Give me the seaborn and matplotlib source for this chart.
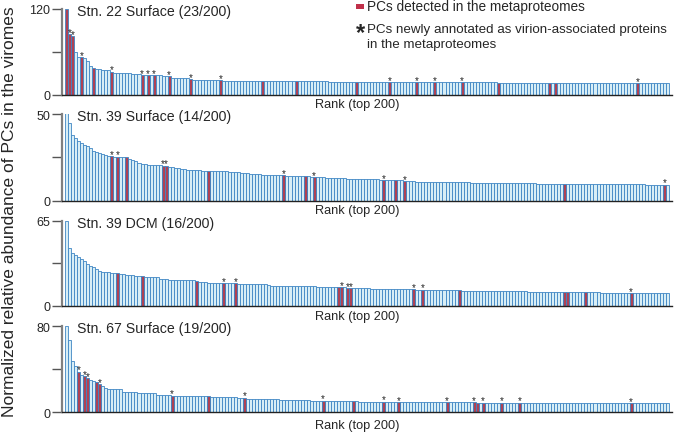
import pandas as pd
import seaborn as sns
import matplotlib.pyplot as plt
from matplotlib.colors import to_rgba
from matplotlib.patches import Rectangle

# Estimated abundance of the top 200 PCs in each virome
stn22_surface = [
    120, 85, 82, 59.5, 53, 52.6, 51, 48, 40, 37,
    36.3, 36, 35.5, 35, 34.5, 32.5, 31, 30.5, 30.3, 30.2,
    30.2, 30.1, 30.0, 29.8, 29.5, 28.0, 27.9, 27.9, 27.8, 27.8,
    27.6, 27.4, 27.2, 27.0, 26.0, 23.8, 23.7, 23.6, 23.5, 23.4,
    23.2, 22.3, 21.2, 21.1, 21.0, 21.0, 21.0, 20.9, 20.9, 20.8,
    20.8, 20.8, 20.2, 20.1, 20.1, 20.0, 20.0, 20.0, 20.0, 19.9,
    19.9, 19.9, 19.8, 19.8, 19.8, 19.7, 19.7, 19.7, 19.6, 19.6,
    19.6, 19.5, 19.5, 19.4, 19.4, 19.3, 19.3, 19.3, 19.2, 19.2,
    19.1, 19.1, 19.0, 19.0, 19.0, 18.9, 18.9, 18.8, 18.8, 18.8,
    18.7, 18.7, 18.7, 18.6, 18.6, 18.6, 18.5, 18.5, 18.5, 18.4,
    18.4, 18.4, 18.3, 18.3, 18.3, 18.2, 18.2, 18.2, 18.2, 18.1,
    18.1, 18.1, 18.1, 18.0, 18.0, 18.0, 18.0, 17.9, 17.9, 17.9,
    17.9, 17.9, 17.8, 17.8, 17.8, 17.8, 17.8, 17.7, 17.7, 17.7,
    17.7, 17.7, 17.6, 17.6, 17.6, 17.6, 17.6, 17.5, 17.5, 17.5,
    17.5, 17.5, 17.5, 17.4, 17.4, 17.4, 17.4, 17.4, 17.3, 17.3,
    17.3, 17.3, 17.3, 17.3, 17.2, 17.2, 17.2, 17.2, 17.2, 17.2,
    17.1, 17.1, 17.1, 17.1, 17.1, 17.1, 17.0, 17.0, 17.0, 17.0,
    17.0, 17.0, 16.9, 16.9, 16.9, 16.9, 16.9, 16.9, 16.8, 16.8,
    16.8, 16.8, 16.8, 16.8, 16.7, 16.7, 16.7, 16.7, 16.7, 16.7,
    16.6, 16.6, 16.6, 16.6, 16.6, 16.6, 16.5, 16.5, 16.5, 16.5,
]
stn39_surface = [
    50.4, 44.7, 38.1, 36.4, 34.6, 33.1, 32.3, 31.6, 30.2, 28.5,
    27.9, 27.3, 26.9, 26.4, 26.0, 25.5, 25.4, 25.4, 25.2, 25.1,
    25.0, 24.1, 23.4, 22.7, 22.0, 21.4, 21.1, 20.8, 20.6, 20.5,
    20.4, 20.3, 20.2, 20.2, 19.6, 19.3, 18.9, 18.7, 18.4, 18.1,
    17.8, 17.7, 17.6, 17.5, 17.5, 17.4, 17.4, 17.3, 17.2, 17.1,
    17.0, 17.0, 16.9, 16.9, 16.8, 16.8, 16.7, 16.5, 16.2, 16.0,
    15.8, 15.6, 15.4, 15.3, 15.2, 15.1, 15.0, 14.9, 14.8, 14.8,
    14.7, 14.7, 14.6, 14.5, 14.5, 14.4, 14.4, 14.3, 14.2, 14.1,
    14.0, 13.9, 13.7, 13.6, 13.5, 13.4, 13.3, 13.2, 13.2, 13.1,
    13.0, 12.9, 12.9, 12.8, 12.8, 12.7, 12.7, 12.7, 12.6, 12.6,
    12.5, 12.5, 12.4, 12.3, 12.0, 11.9, 11.9, 11.8, 11.8, 11.8,
    11.7, 11.7, 11.4, 11.2, 11.1, 11.1, 11.0, 11.0, 11.0, 10.9,
    10.9, 10.9, 10.8, 10.8, 10.8, 10.7, 10.7, 10.7, 10.6, 10.6,
    10.6, 10.5, 10.5, 10.5, 10.4, 10.4, 10.4, 10.4, 10.3, 10.3,
    10.3, 10.3, 10.3, 10.2, 10.2, 10.2, 10.2, 10.2, 10.1, 10.1,
    10.1, 10.1, 10.0, 10.0, 10.0, 10.0, 9.9, 9.9, 9.9, 9.9,
    9.9, 9.8, 9.8, 9.8, 9.8, 9.8, 9.7, 9.7, 9.7, 9.7,
    9.7, 9.7, 9.6, 9.6, 9.6, 9.6, 9.6, 9.6, 9.5, 9.5,
    9.5, 9.5, 9.5, 9.5, 9.5, 9.4, 9.4, 9.4, 9.4, 9.4,
    9.4, 9.4, 9.3, 9.3, 9.3, 9.3, 9.3, 9.3, 9.3, 9.2,
]
stn39_dcm = [
    65.0, 44.1, 40.5, 38.5, 37.0, 35.5, 33.9, 31.6, 30.6, 29.8,
    28.0, 26.5, 25.9, 25.7, 25.5, 25.3, 25.2, 24.8, 24.2, 24.0,
    23.7, 23.4, 23.1, 22.9, 22.7, 22.5, 21.9, 21.9, 21.8, 21.8,
    21.7, 20.3, 20.2, 20.1, 20.0, 20.0, 19.9, 19.9, 19.8, 19.8,
    19.7, 19.7, 19.6, 19.1, 18.0, 17.9, 17.8, 17.7, 17.6, 17.5,
    17.3, 17.2, 17.1, 17.1, 17.0, 17.0, 17.0, 16.9, 16.9, 16.8,
    16.8, 16.7, 16.7, 16.6, 16.6, 16.5, 16.3, 16.0, 15.4, 15.3,
    15.3, 15.3, 15.2, 15.2, 15.2, 15.1, 15.1, 15.1, 15.0, 15.0,
    15.0, 14.9, 14.9, 14.4, 14.3, 14.3, 14.3, 14.2, 14.2, 14.2,
    14.1, 14.1, 14.0, 13.5, 13.4, 13.3, 13.3, 13.3, 13.2, 13.2,
    13.2, 13.1, 13.1, 13.0, 12.9, 12.9, 12.8, 12.8, 12.8, 12.7,
    12.7, 12.7, 12.6, 12.6, 12.5, 12.4, 12.3, 12.3, 12.2, 12.2,
    12.2, 12.1, 12.1, 12.0, 12.0, 11.9, 11.9, 11.8, 11.8, 11.7,
    11.7, 11.6, 11.6, 11.5, 11.5, 11.4, 11.4, 11.3, 11.3, 11.3,
    11.2, 11.2, 11.2, 11.1, 11.1, 11.1, 11.0, 11.0, 11.0, 11.0,
    10.9, 10.9, 10.9, 10.8, 10.8, 10.8, 10.7, 10.7, 10.7, 10.6,
    10.6, 10.6, 10.5, 10.5, 10.5, 10.4, 10.4, 10.4, 10.3, 10.3,
    10.3, 10.2, 10.2, 10.2, 10.1, 10.1, 10.1, 10.0, 10.0, 10.0,
    10.0, 9.9, 9.9, 9.9, 9.9, 9.8, 9.8, 9.8, 9.8, 9.8,
    9.7, 9.7, 9.7, 9.7, 9.7, 9.6, 9.6, 9.6, 9.6, 9.6,
]
stn67_surface = [
    80.0, 67.6, 48.0, 43.4, 37.8, 34.7, 33.5, 31.6, 29.8, 28.8,
    27.9, 26.0, 24.2, 22.3, 21.8, 21.7, 21.6, 21.6, 21.5, 19.3,
    19.2, 19.2, 19.1, 19.1, 18.1, 18.0, 18.0, 17.9, 17.9, 17.8,
    16.2, 16.1, 16.1, 16.0, 16.0, 15.4, 15.0, 14.9, 14.9, 14.9,
    14.9, 14.8, 14.8, 14.8, 14.8, 14.8, 14.7, 14.7, 14.6, 14.5,
    14.4, 14.3, 14.2, 14.1, 14.0, 13.9, 13.8, 13.7, 13.7, 13.6,
    12.6, 12.5, 12.5, 12.4, 12.4, 12.3, 12.3, 12.2, 12.2, 12.1,
    12.0, 11.9, 11.8, 11.7, 11.6, 11.5, 11.4, 11.3, 11.2, 11.1,
    11.0, 10.9, 10.8, 10.8, 10.7, 10.7, 10.6, 10.5, 10.5, 10.4,
    10.4, 10.3, 10.3, 10.2, 10.2, 10.1, 10.1, 10.0, 10.0, 10.0,
    9.9, 9.9, 9.9, 9.8, 9.8, 9.8, 9.7, 9.7, 9.7, 9.7,
    9.6, 9.6, 9.6, 9.6, 9.5, 9.5, 9.5, 9.5, 9.5, 9.4,
    9.4, 9.4, 9.4, 9.4, 9.3, 9.3, 9.3, 9.3, 9.3, 9.3,
    9.2, 9.2, 9.2, 9.2, 9.2, 9.2, 9.1, 9.1, 9.1, 9.1,
    9.1, 9.1, 9.1, 9.0, 9.0, 9.0, 9.0, 9.0, 9.0, 9.0,
    9.0, 8.9, 8.9, 8.9, 8.9, 8.9, 8.9, 8.9, 8.9, 8.9,
    8.9, 8.8, 8.8, 8.8, 8.8, 8.8, 8.8, 8.8, 8.8, 8.8,
    8.8, 8.8, 8.7, 8.7, 8.7, 8.7, 8.7, 8.7, 8.7, 8.7,
    8.7, 8.7, 8.7, 8.7, 8.6, 8.6, 8.6, 8.6, 8.6, 8.6,
    8.6, 8.6, 8.6, 8.6, 8.6, 8.6, 8.5, 8.5, 8.5, 8.5,
]

# Ranks (0-based) of PCs detected in the metaproteomes, and the newly annotated ones (*)
stn22_detected = [0, 1, 2, 5, 9, 15, 25, 27, 29, 34, 41, 51, 65, 76, 96, 107, 116, 122, 131, 143, 160, 162, 189]
stn22_starred = [1, 2, 5, 15, 25, 27, 29, 34, 41, 51, 107, 116, 122, 131, 189]
stn39s_detected = [15, 17, 20, 32, 33, 47, 72, 79, 82, 105, 109, 112, 165, 198]
stn39s_starred = [15, 17, 32, 33, 72, 82, 105, 112, 198]
stn39d_detected = [17, 25, 43, 52, 56, 90, 91, 93, 94, 115, 118, 130, 165, 166, 172, 187]
stn39d_starred = [52, 56, 91, 93, 94, 115, 118, 187]
stn67_detected = [4, 6, 7, 10, 11, 35, 47, 59, 85, 95, 105, 110, 126, 135, 136, 138, 144, 150, 187]
stn67_starred = [4, 6, 7, 11, 35, 59, 85, 105, 110, 126, 135, 138, 144, 150, 187]

panel_titles = ['Stn. 22 Surface (23/200)', 'Stn. 39 Surface (14/200)',
                'Stn. 39 DCM (16/200)', 'Stn. 67 Surface (19/200)']
panel_ymax = [120, 50, 65, 80]

LIGHT = '#d3f0fb'
EDGE = '#3f86c4'
RED = '#c0304a'
RED_EDGE = '#8e3060'

sns.set_style('white')
plt.rcParams['font.family'] = ['Liberation Sans', 'DejaVu Sans']

fig = plt.figure(figsize=(6.77, 4.35), dpi=100)

# axes boxes in pixels: (top, zero line)
boxes = [(10, 96), (115, 201.7), (221.7, 306.7), (327.3, 413.3)]
rank_gap = [3, 3, 4, 7]

panels = [
    (stn22_surface, stn22_detected, stn22_starred),
    (stn39_surface, stn39s_detected, stn39s_starred),
    (stn39_dcm, stn39d_detected, stn39d_starred),
    (stn67_surface, stn67_detected, stn67_starred),
]

W, H = 677, 435
red_rgba = to_rgba(RED)
for k, (values, detected, starred) in enumerate(panels):
    top, zero = boxes[k]
    ax = fig.add_axes([62 / W, 1 - zero / H, 610 / W, (zero - top) / H])
    df = pd.DataFrame({
        'rank': range(len(values)),
        'value': values,
        'kind': ['det' if i in detected else 'other' for i in range(len(values))],
    })
    sns.barplot(data=df, x='rank', y='value', hue='kind',
                palette={'det': RED, 'other': LIGHT}, dodge=False, width=1.0,
                edgecolor=EDGE, linewidth=0.6, legend=False, errorbar=None, ax=ax)
    # detected bars get a darker red outline so they read as solid red
    for p in ax.patches:
        if all(abs(a - b) < 1e-3 for a, b in zip(p.get_facecolor(), red_rgba)):
            p.set_edgecolor(RED_EDGE)
    for i in starred:
        ax.annotate('*', xy=(i, values[i]), xytext=(0, -0.5), textcoords='offset points',
                    ha='center', va='baseline', fontsize=7, color='#222222')

    ymax = panel_ymax[k]
    ax.set_ylim(0, ymax)
    ax.set_xlim(-1.5, 200.5)
    ax.set_yticks([0, ymax / 2, ymax])
    ax.set_yticklabels(['0', '', str(ymax)])
    ax.set_xticks([])
    ax.set_xlabel('')
    ax.set_ylabel('')
    ax.tick_params(axis='y', length=7, width=1, color='#555555', pad=1.5, labelsize=9,
                   left=True)
    for s in ['top', 'right']:
        ax.spines[s].set_visible(False)
    ax.spines['left'].set_color('#808080')
    ax.spines['left'].set_linewidth(1.6)
    ax.spines['bottom'].set_color('#222222')
    ax.spines['bottom'].set_linewidth(1.0)

    ax.text(15 / 610, 1 - 2 / (zero - top), panel_titles[k], transform=ax.transAxes,
            ha='left', va='center', fontsize=10.2)
    ax.text((357 - 62) / 610, -rank_gap[k] / (zero - top), 'Rank (top 200)',
            transform=ax.transAxes, ha='center', va='top', fontsize=9.2)

fig.text(10 / W, 1 - 212 / H, 'Normalized relative abundance of PCs in the viromes',
         rotation=90, ha='center', va='center', fontsize=12.5)

# legend
fig.patches.append(Rectangle((356 / W, 1 - 10 / H), 8 / W, 5 / H,
                             transform=fig.transFigure, facecolor=RED, edgecolor='none'))
fig.text(367 / W, 1 - 7 / H, 'PCs detected in the metaproteomes', ha='left', va='center',
         fontsize=9.8)
fig.text(360 / W, 1 - 34 / H, '*', ha='center', va='center', fontsize=17, fontweight='bold')
fig.text(367 / W, 1 - 30 / H, 'PCs newly annotated as virion-associated proteins', ha='left',
         va='center', fontsize=9.6)
fig.text(367 / W, 1 - 45 / H, 'in the metaproteomes', ha='left', va='center', fontsize=9.6)

fig.savefig('out.png', dpi=100)
